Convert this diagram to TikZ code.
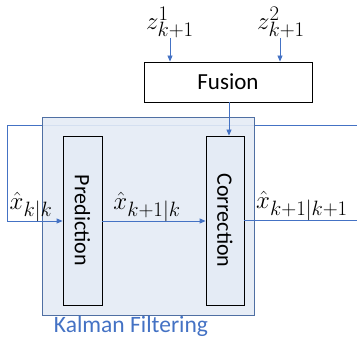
\documentclass[tikz,border=0pt]{standalone}
\usepackage{fontspec}
\setmainfont{Carlito}
\usetikzlibrary{arrows.meta}
\definecolor{flowblue}{HTML}{4472C4}
\definecolor{kfborder}{HTML}{4F6FA3}
\definecolor{kffill}{HTML}{E4EBF5}
\begin{document}
\begin{tikzpicture}[x=1pt,y=-1pt,
  flow/.style={draw=flowblue,line width=0.8pt},
  tip/.style={-{Triangle[length=6pt,width=5pt]}},
  blockbox/.style={draw=black,line width=0.8pt,inner sep=0pt},
  lbl/.style={font=\fontsize{22}{26}\selectfont,inner sep=0pt},
  mathlbl/.style={font=\fontsize{24.88}{28}\selectfont,inner sep=0pt}]
\useasboundingbox (0,0) rectangle (357,339);
% feedback loop and output line
\coordinate (fbR) at (357,125);
\coordinate (fbL) at (7,125);
\coordinate (fbD) at (7,221);
\coordinate (outR) at (357,220);
\draw[flow] (fbR) -- (fbL) -- (fbD);
% Kalman filter frame
\node[draw=kfborder,fill=kffill,fill opacity=0.9,line width=1pt,minimum width=212pt,minimum height=198pt,inner sep=0pt] (kf) at (148,217) {};
\node[font=\fontsize{23.5}{28}\selectfont,text=flowblue,inner sep=0pt] (kflabel) at (131,326) {Kalman Filtering};
% blocks
\node[blockbox,fill=kffill,minimum width=39pt,minimum height=169pt] (pred) at (82.5,220.5) {};
\node[lbl,rotate=-90] at (pred.center) {Prediction};
\node[blockbox,fill=kffill,minimum width=38pt,minimum height=169pt] (corr) at (225,220.5) {};
\node[lbl,rotate=-90] at (corr.center) {Correction};
\node[blockbox,fill=white,minimum width=168pt,minimum height=40pt,font=\fontsize{23}{27}\selectfont] (fus) at (228,82) {Fusion};
% measurements
\node[mathlbl] (z1) at (170,22) {$z^1_{k+1}$};
\node[mathlbl] (z2) at (281,22) {$z^2_{k+1}$};
\coordinate (z1a) at (170,38);
\coordinate (z2a) at (280,38);
\draw[flow,tip] (z1a) -- (z1a |- fus.north);
\draw[flow,tip] (z2a) -- (z2a |- fus.north);
\draw[flow,tip] (fus.south -| 229,0) -- (229,0 |- corr.north);
% state estimates
\draw[flow,tip] (fbD) -- (fbD -| pred.west);
\draw[flow,tip] (pred.east |- 0,221) -- (corr.west |- 0,221);
\draw[flow] (corr.east |- 0,220) -- (outR);
\node[mathlbl] (xkk) at (31,207) {$\hat{x}_{k|k}$};
\node[mathlbl] (xk1k) at (147,207) {$\hat{x}_{k+1|k}$};
\node[mathlbl] (xk1k1) at (302,206) {$\hat{x}_{k+1|k+1}$};
\end{tikzpicture}
\end{document}
